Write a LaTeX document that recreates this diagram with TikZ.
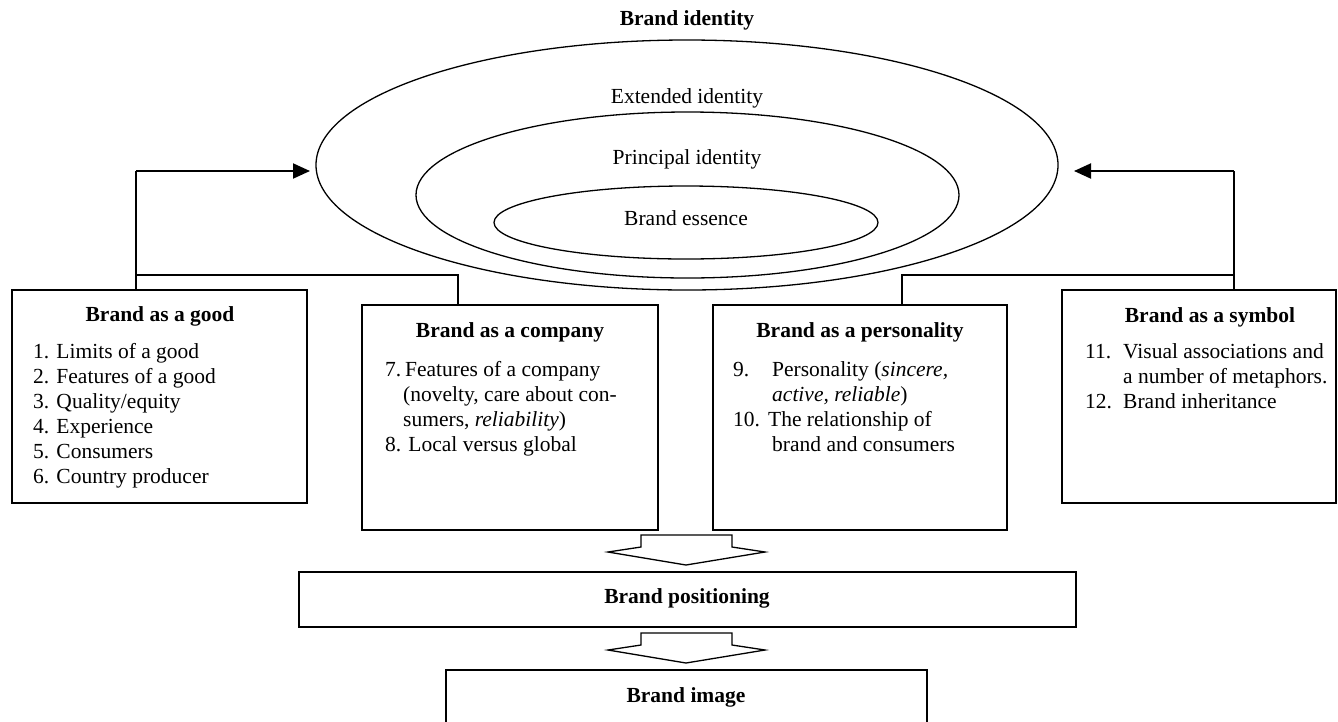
\documentclass[tikz,border=0pt]{standalone}
\usepackage{fontspec}
\setmainfont{Liberation Serif}
\usetikzlibrary{shapes.geometric,arrows.meta}
\begin{document}
\begin{tikzpicture}[x=1pt,y=-1pt,
 every node/.style={font=\fontsize{21.5}{25}\selectfont},
 box/.style={draw, line width=1.3pt, rectangle, inner sep=0},
 ring/.style={draw, ellipse, line width=1.3pt, inner sep=0},
 lbl/.style={anchor=base, inner sep=0},
 ttl/.style={anchor=base, inner sep=0, font=\fontsize{21.5}{25}\selectfont\bfseries},
 lst/.style={anchor=north west, inner sep=0},
 wire/.style={line width=1.3pt},
 harrow/.style={line width=2pt, -{Triangle[length=17pt,width=15pt]}},
 blk/.style={draw, fill=white, line width=1.3pt, line join=miter}]
\useasboundingbox (0,0) rectangle (1338,721);
\clip (0,0) rectangle (1338,721);
\fill[white] (0,0) rectangle (1338,721);

% ellipses
\node[ring, minimum width=742pt, minimum height=250pt] (outer) at (687,165) {};
\node[ring, minimum width=543pt, minimum height=166pt] (middle) at (687.5,195) {};
\node[ring, minimum width=384pt, minimum height=73pt] (inner) at (686,222.5) {};
\node[ttl] (bid) at (687,25) {Brand identity};
\node[lbl] (ext) at (687,103) {Extended identity};
\node[lbl] (pri) at (687,164) {Principal identity};
\node[lbl] (ess) at (686,225) {Brand essence};

% boxes
\node[box, minimum width=295pt, minimum height=213pt] (good) at (159.5,396.5) {};
\node[box, minimum width=296pt, minimum height=225pt] (comp) at (510,417.5) {};
\node[box, minimum width=294pt, minimum height=225pt] (pers) at (860,417.5) {};
\node[box, minimum width=274pt, minimum height=213pt] (symb) at (1199,396.5) {};
\node[box, minimum width=777pt, minimum height=55pt] (posn) at (687.5,599.5) {};
\node[box, minimum width=481pt, minimum height=70pt] (img) at (686.5,705) {};

\node[ttl] (goodt) at (160,321) {Brand as a good};
\node[lst] (goodl) at (33,340.5) {\begin{tabular}{@{}l@{}}
1. Limits of a good\\
2. Features of a good\\
3. Quality/equity\\
4. Experience\\
5. Consumers\\
6. Country producer
\end{tabular}};

\node[ttl] (compt) at (510,337) {Brand as a company};
\node[lst] (compl) at (385,358.5) {\begin{tabular}{@{}l@{}}
\makebox[20pt][l]{7.}Features of a company\\
\hspace*{18pt}(novelty, care about con-\\
\hspace*{18pt}sumers, \textit{reliability})\\
8. Local versus global
\end{tabular}};

\node[ttl] (perst) at (860,337) {Brand as a personality};
\node[lst] (persl) at (733,358.5) {\begin{tabular}{@{}l@{}}
\makebox[39pt][l]{9.}Personality (\textit{sincere,}\\
\hspace*{39pt}\textit{active, reliable})\\
\makebox[35pt][l]{10.}The relationship of\\
\hspace*{39pt}brand and consumers
\end{tabular}};

\node[ttl] (symbt) at (1210,322) {Brand as a symbol};
\node[lst] (symbl) at (1085,340.5) {\begin{tabular}{@{}l@{}}
\makebox[38pt][l]{11.}Visual associations and\\
\hspace*{38pt}a number of metaphors.\\
\makebox[38pt][l]{12.}Brand inheritance
\end{tabular}};

\node[ttl] (posnt) at (687,603) {Brand positioning};
\node[ttl] (imgt) at (686,702) {Brand image};

% connectors
\coordinate (cL) at (136,171);
\coordinate (tL) at (310,171);
\coordinate (jL) at (136,275);
\coordinate (kL) at (458,275);
\coordinate (cR) at (1234,171);
\coordinate (tR) at (1074,171);
\coordinate (jR) at (1234,275);
\coordinate (kR) at (902,275);
\draw[wire] (good.north -| cL) -- (cL);
\draw[harrow] (cL) -- (tL);
\draw[wire] (comp.north -| kL) -- (kL) -- (jL);
\draw[wire] (symb.north -| cR) -- (cR);
\draw[harrow] (cR) -- (tR);
\draw[wire] (pers.north -| kR) -- (kR) -- (jR);

% block arrows
\draw[blk] (641,535) -- (641,547) -- (608,552) -- (686,565) -- (765,552) -- (732,547) -- (732,535) -- cycle;
\draw[blk] (641,633) -- (641,645) -- (608,650) -- (686,663) -- (765,650) -- (732,645) -- (732,633) -- cycle;
\end{tikzpicture}
\end{document}
